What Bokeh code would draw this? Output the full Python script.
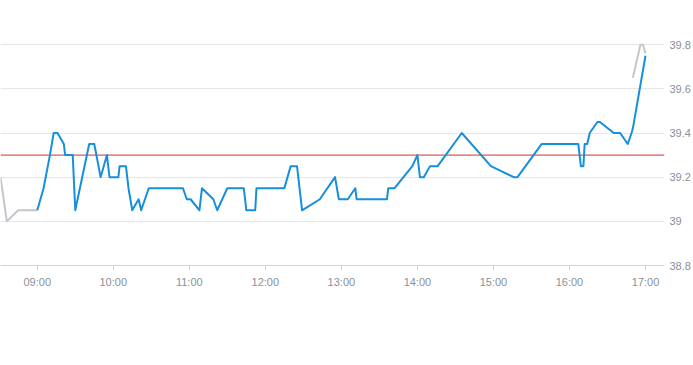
import pandas as pd
from bokeh.plotting import figure
from bokeh.models import Range1d, FixedTicker, NumeralTickFormatter, DatetimeTickFormatter, Span
from bokeh.embed import file_html
from bokeh.resources import INLINE

DAY = "2024-01-02 "

# intraday session (blue)
session_times = ["09:00", "09:05", "09:10", "09:13", "09:16", "09:21", "09:22", "09:28", "09:30", "09:41",
                 "09:45", "09:50", "09:55", "09:57", "10:04", "10:05", "10:10", "10:12", "10:15", "10:20",
                 "10:22", "10:28", "10:55", "10:58", "11:01", "11:08", "11:10", "11:19", "11:22", "11:30",
                 "11:43", "11:45", "11:52", "11:53", "12:15", "12:20", "12:25", "12:29", "12:43", "12:55",
                 "12:58", "13:05", "13:11", "13:12", "13:36", "13:37", "13:42", "13:56", "14:00", "14:02",
                 "14:05", "14:10", "14:16", "14:35", "14:58", "15:16", "15:19", "15:38", "16:07", "16:09",
                 "16:11", "16:12", "16:14", "16:16", "16:22", "16:24", "16:35", "16:40", "16:46", "16:49",
                 "16:50", "17:00"]
session_values = [39.05, 39.15, 39.30, 39.40, 39.40, 39.35, 39.30, 39.30, 39.05, 39.35,
                  39.35, 39.20, 39.30, 39.20, 39.20, 39.25, 39.25, 39.15, 39.05, 39.10,
                  39.05, 39.15, 39.15, 39.10, 39.10, 39.05, 39.15, 39.10, 39.05, 39.15,
                  39.15, 39.05, 39.05, 39.15, 39.15, 39.25, 39.25, 39.05, 39.10, 39.20,
                  39.10, 39.10, 39.15, 39.10, 39.10, 39.15, 39.15, 39.25, 39.30, 39.20,
                  39.20, 39.25, 39.25, 39.40, 39.25, 39.20, 39.20, 39.35, 39.35, 39.25,
                  39.25, 39.35, 39.35, 39.40, 39.45, 39.45, 39.40, 39.40, 39.35, 39.40,
                  39.42, 39.75]

# pre-session (grey)
pre_times = ["08:31", "08:36", "08:45", "09:00"]
pre_values = [39.20, 39.00, 39.05, 39.05]

# post-session (grey)
post_times = ["16:50", "16:56", "16:58", "17:00"]
post_values = [39.65, 39.80, 39.80, 39.76]

reference_level = 39.30

x_tick_times = ["09:00", "10:00", "11:00", "12:00", "13:00", "14:00", "15:00", "16:00", "17:00"]
y_ticks = [38.8, 39.0, 39.2, 39.4, 39.6, 39.8]

view_start = "08:31"
view_end = "17:15"


def ts(items):
    return pd.to_datetime([DAY + t for t in items])


p = figure(width=693, height=350, x_axis_type="datetime", y_axis_location="right",
           output_backend="svg", toolbar_location=None,
           x_range=Range1d(ts([view_start])[0], ts([view_end])[0]),
           y_range=Range1d(38.8, 40.0),
           min_border_left=0, min_border_top=0, min_border_right=0, min_border_bottom=85)
p.outline_line_color = None
p.background_fill_color = "white"
p.border_fill_color = "white"

p.xgrid.grid_line_color = None
p.ygrid.grid_line_color = "#e6e6e6"
p.ygrid.ticker = FixedTicker(ticks=y_ticks)

grey = "#c3c7cc"
blue = "#168fdc"

p.add_layout(Span(location=reference_level, dimension="width", line_color="#cc3333",
                  line_width=1, level="underlay"))

p.line(ts(pre_times), pre_values, line_color=grey, line_width=2, line_join="round")
p.line(ts(post_times), post_values, line_color=grey, line_width=2, line_join="round")
p.line(ts(session_times), session_values, line_color=blue, line_width=2, line_join="round")

label_color = "#8a9099"
font = "Liberation Sans"

xa = p.xaxis[0]
xa.ticker = FixedTicker(ticks=[t.value // 10**6 for t in ts(x_tick_times)])
xa.formatter = DatetimeTickFormatter(hours="%H:%M", hourmin="%H:%M", minutes="%H:%M", days="%H:%M")
xa.axis_line_color = "#ccd6eb"
xa.major_tick_line_color = "#ccd6eb"
xa.major_tick_in = 0
xa.major_tick_out = 5
xa.minor_tick_line_color = None
xa.major_label_text_color = label_color
xa.major_label_text_font = font
xa.major_label_text_font_size = "11px"
xa.major_label_standoff = 5

ya = p.yaxis[0]
ya.ticker = FixedTicker(ticks=y_ticks)
ya.formatter = NumeralTickFormatter(format="0.[0]")
ya.axis_line_color = None
ya.major_tick_line_color = None
ya.major_tick_in = 0
ya.major_tick_out = 0
ya.minor_tick_line_color = None
ya.major_label_text_color = label_color
ya.major_label_text_font = font
ya.major_label_text_font_size = "11px"
ya.major_label_standoff = 5

open("out.html", "w").write(file_html(p, INLINE))
